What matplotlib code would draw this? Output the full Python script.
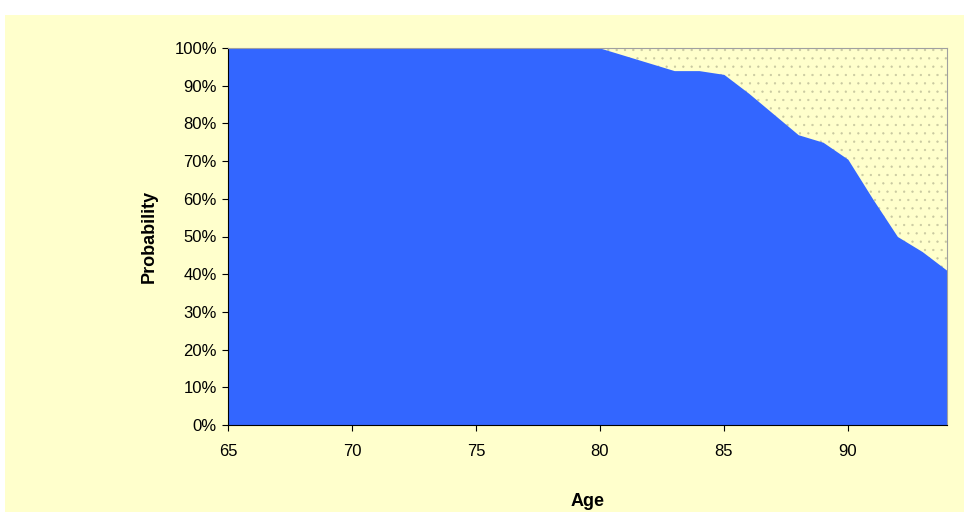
import matplotlib.pyplot as plt
from matplotlib.ticker import PercentFormatter
from matplotlib.patches import Rectangle

ages = list(range(65, 95))
prob = [100] * 16 + [98, 96, 94, 94, 93, 88, 82.5, 77, 75, 70.5, 60, 50, 46, 41]

plt.rcParams['font.family'] = ['Liberation Sans', 'DejaVu Sans']
plt.rcParams['hatch.color'] = '#C8C8A0'
plt.rcParams['hatch.linewidth'] = 0.4

fig = plt.figure(figsize=(9.64, 5.12), dpi=100)
fig.patch.set_facecolor('white')
fig.patches.append(Rectangle((5 / 964, 0), 959 / 964, 497 / 512, transform=fig.transFigure,
                             facecolor='#FFFFCC', edgecolor='none', zorder=-1))

ax = fig.add_axes([228 / 964, 87 / 512, 719 / 964, 377 / 512])
ax.set_facecolor('#FFFFCC')
ax.add_patch(Rectangle((65, 0), 29, 100, facecolor='#FFFFCC', hatch='..', edgecolor='#C8C8A0', lw=0, zorder=0))
ax.fill_between(ages, prob, 0, color='#3366FF', lw=0, zorder=1)

ax.set_xlim(65, 94)
ax.set_ylim(0, 100)
ax.set_xticks([65, 70, 75, 80, 85, 90])
ax.set_yticks(range(0, 101, 10))
ax.yaxis.set_major_formatter(PercentFormatter(decimals=0))
for s in ax.spines.values():
    s.set_color('#A0A0A0')
ax.spines['left'].set_color('black')
ax.spines['bottom'].set_color('black')
ax.tick_params(labelsize=12, length=4, direction='out', pad=4)
ax.tick_params(axis='x', pad=10)
ax.set_xlabel('Age', fontsize=13, fontweight='bold', labelpad=24)
ax.set_ylabel('Probability', fontsize=13, fontweight='bold', labelpad=12)

fig.savefig('out.png', dpi=100, facecolor=fig.get_facecolor())
